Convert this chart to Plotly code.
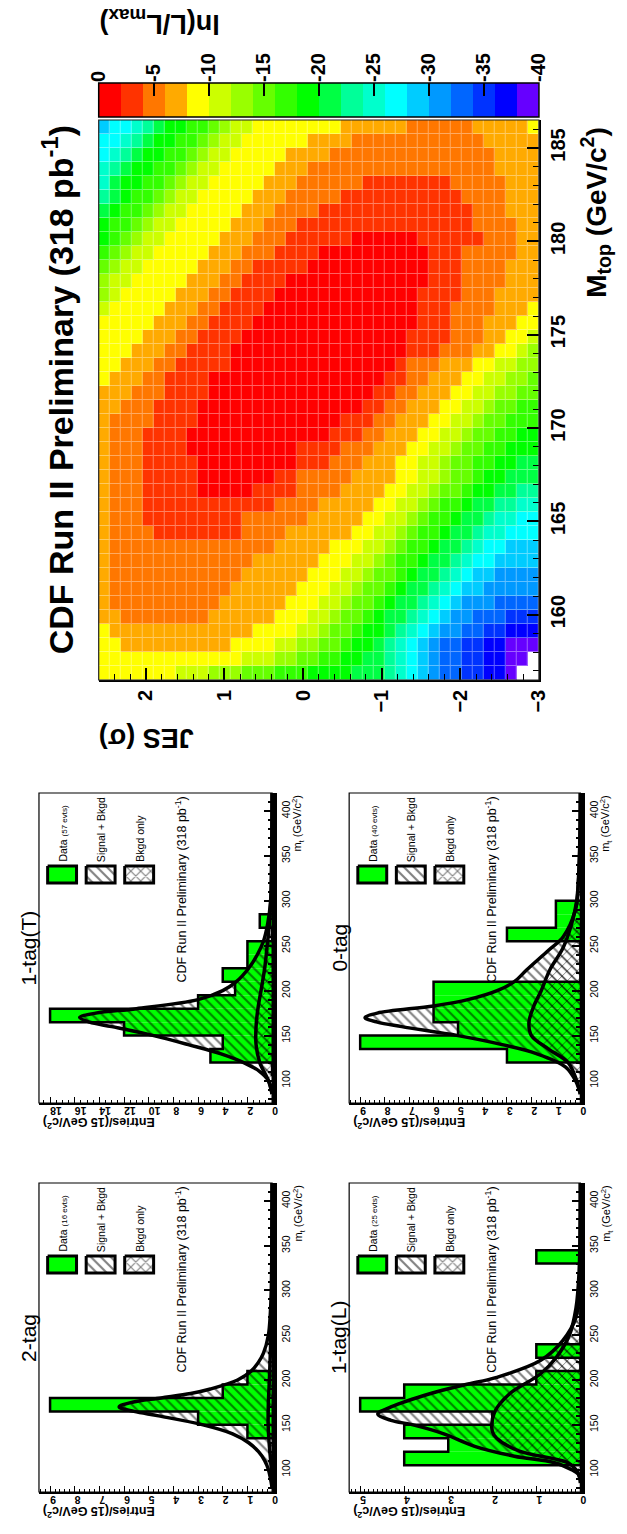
import plotly.graph_objects as go

W, H = 627, 1534
FONT = "Liberation Sans, Arial, sans-serif"


def pxx(x):
    return x / W


def pxy(y):
    return 1 - y / H


# ------------------------------------------------------------------
# 2D likelihood  ln(L/Lmax)  vs  JES (sigma) and M_top
# ------------------------------------------------------------------
JES_RANGE = [2.6, -3.0]          # left -> right as drawn
MTOP_RANGE = [156.5, 186.5]
JES_BIN = 0.14
MTOP_BIN = 0.75
LEVEL_CHARS = "0123456789abcdefghij"   # band k : ln(L/Lmax) in [-2k-2, -2k]
LEVEL_COLORS = ["#ff0000", "#ff3300", "#ff7700", "#ffaa00", "#ffff00",
                "#ccff00", "#99ff00", "#66ff00", "#33ff00", "#00ff00",
                "#00ff44", "#00ff99", "#00ffcc", "#00ffff", "#00ccff",
                "#0099ff", "#0066ff", "#0033ff", "#0000ff", "#6600ff"]
COLORBAR_TICKS = [0, -5, -10, -15, -20, -25, -30, -35, -40]
# rows from M_top = 186.5 (top) downwards, columns from JES = +2.6 (left) to -3.0
LNL_ROWS = [
    "eddcba9988765544444444333333222222333334",
    "ddcba99887655444444333322222222222233333",
    "dcba998876554444433332222222222222223333",
    "cba9988765544444333222222222222222223333",
    "ca99887655444443332222221111111122222333",
    "ba98876554444433322222111111111112222333",
    "a988765544444333222211111111111111222333",
    "9887655444443332221111111111111111222233",
    "9876554444433322211111100000011111122233",
    "8765544444333222111100000000001112222233",
    "7655444443332211111000000000001112222333",
    "6554444433322111100000000000001112222333",
    "6544444333221111000000000000011112223333",
    "5444443332211110000000000000011122223334",
    "4444433322111100000000000000011122233344",
    "4444333221111000000000000000111122233445",
    "4443332211110000000000000000111222334456",
    "4433322111110000000000000001222333445566",
    "4333221111000000000000000011223334455667",
    "3332221111000000000000000112233344556677",
    "3322211110000000000000001122333445567788",
    "3222211110000000000000111223334455677888",
    "3222111100000000000001112233344556778899",
    "3222111100000000001111222333445567788999",
    "32221111100000000011122233344556778899aa",
    "3222111110000000112222233334455677899aaa",
    "322211111000001111222233334455677899aabb",
    "3222111111111111222233333445567889aabbcc",
    "322211111111122222233333445567889aabccdd",
    "32222111111112222333333445567889aabccddd",
    "3222222222222222333334445567889aabcddeee",
    "322222222222223333334445567889aabcddeeee",
    "32222222222223333334445567789aabcdeeffff",
    "3222222222223333334445567789aabcdeefffff",
    "322222222223333334445567789aabcdefffgggg",
    "33222222223333334445567789aabcdeffggghhh",
    "43333333333333444455677899abcdeffgghhiii",
    "4433333333334444556677899abcdefgghhiijjj",
    "444444444444455566778899aabcdefgghhiijj.",
    "44444445556667778889999aaabcdefgghhiij..",
]

# ------------------------------------------------------------------
# m_t distributions (15 GeV bins) : bin low edges and entries
# ------------------------------------------------------------------
T1_BINS = [105, 120, 135, 150, 165, 180, 195, 210, 225, 240, 255, 270]
T1_COUNTS = [0, 5, 4, 12, 18, 6, 3, 4, 2, 2, 0, 1]
T1_SB_M = [85, 100, 110, 120, 130, 140, 150, 160, 165, 170, 175, 180, 190, 200, 210, 225, 240, 255, 275, 300, 350, 420]
T1_SB_V = [0, 0.3, 1.0, 2.3, 4.2, 6.8, 9.6, 13.0, 14.8, 15.6, 14.3, 11.0, 6.0, 4.0, 2.9, 1.9, 1.2, 0.7, 0.35, 0.12, 0.03, 0]
T1_B_M = [85, 100, 120, 140, 160, 180, 200, 225, 250, 275, 300, 350, 420]
T1_B_V = [0, 0.3, 1.0, 1.3, 1.3, 1.15, 0.9, 0.6, 0.4, 0.22, 0.1, 0.03, 0]

T0_BINS = [120, 135, 150, 165, 180, 195, 210, 225, 240, 255, 270, 285]
T0_COUNTS = [3, 9, 5, 6, 6, 6, 0, 0, 0, 3, 1, 1]
T0_SB_M = [85, 100, 115, 130, 140, 150, 160, 165, 170, 175, 183, 190, 200, 210, 223, 245, 260, 290, 320, 360, 420]
T0_SB_V = [0, 0.2, 0.6, 1.8, 3.2, 5.0, 7.3, 8.3, 8.8, 8.3, 6.0, 4.6, 3.4, 2.7, 2.2, 1.3, 0.7, 0.2, 0.08, 0.02, 0]
T0_B_M = [85, 100, 120, 135, 150, 165, 183, 200, 223, 248, 275, 300, 350, 420]
T0_B_V = [0, 0.15, 0.5, 1.3, 2.0, 2.1, 1.9, 1.6, 1.25, 0.7, 0.35, 0.15, 0.04, 0]

T2_BINS = [135, 150, 165, 180, 195]
T2_COUNTS = [1, 3, 9, 2, 1]
T2_SB_M = [80, 100, 110, 120, 130, 140, 150, 160, 165, 170, 175, 180, 185, 190, 200, 210, 220, 230, 250, 275, 300, 350, 420]
T2_SB_V = [0, 0.15, 0.3, 0.55, 0.95, 1.6, 2.8, 4.6, 5.6, 6.2, 5.7, 4.5, 3.3, 2.5, 1.4, 0.85, 0.55, 0.35, 0.15, 0.07, 0.03, 0.01, 0]
T2_B_M = [80, 100, 130, 150, 175, 200, 250, 300, 420]
T2_B_V = [0, 0.03, 0.12, 0.16, 0.15, 0.11, 0.05, 0.02, 0]

TL_BINS = [105, 120, 135, 150, 165, 180, 195, 210, 225, 240, 255, 270, 285, 300, 315, 330]
TL_COUNTS = [4, 3, 4, 2, 5, 4, 1, 0, 1, 0, 0, 0, 0, 0, 0, 1]
TL_SB_M = [85, 95, 100, 108, 115, 126, 140, 150, 155, 162, 170, 185, 195, 203, 222, 244, 270, 300, 420]
TL_SB_V = [0, 0.05, 0.2, 0.6, 1.5, 2.4, 3.1, 3.8, 4.3, 4.6, 4.3, 3.4, 2.6, 1.9, 0.9, 0.4, 0.1, 0.03, 0]
TL_B_M = [90, 100, 108, 121, 135, 143, 164, 185, 207, 225, 250, 280, 320, 420]
TL_B_V = [0, 0.1, 0.3, 1.4, 1.9, 2.0, 1.95, 1.6, 0.9, 0.55, 0.25, 0.1, 0.03, 0]

PANELS = [
    # title, n events, bins, counts, sb_m, sb_v, b_m, b_v, y-max, major dtick, minor dtick, frame px
    ("1-tag(T)", 57, T1_BINS, T1_COUNTS, T1_SB_M, T1_SB_V, T1_B_M, T1_B_V, 18.9, 2, 0.5, (28, 793, 270, 1103)),
    ("0-tag", 40, T0_BINS, T0_COUNTS, T0_SB_M, T0_SB_V, T0_B_M, T0_B_V, 9.45, 1, 0.2, (350, 793, 590, 1103)),
    ("2-tag", 16, T2_BINS, T2_COUNTS, T2_SB_M, T2_SB_V, T2_B_M, T2_B_V, 9.45, 1, 0.2, (28, 1183, 270, 1492)),
    ("1-tag(L)", 25, TL_BINS, TL_COUNTS, TL_SB_M, TL_SB_V, TL_B_M, TL_B_V, 5.25, 1, 0.1, (350, 1183, 590, 1492)),
]
MT_RANGE = [75, 420]
BIN_W = 15

fig = go.Figure()
annotations = []
shapes = []

# ---------------- heatmap ----------------
n_rows = len(LNL_ROWS)
n_cols = len(LNL_ROWS[0])
jes_edges = [JES_RANGE[1] + JES_BIN * i for i in range(n_cols + 1)]
mtop_edges = [MTOP_RANGE[0] + MTOP_BIN * i for i in range(n_rows + 1)]
z = []
for row in reversed(LNL_ROWS):
    zr = []
    for ch in reversed(row[:n_cols]):
        k = LEVEL_CHARS.find(ch)
        zr.append(None if k < 0 else -(2 * k + 1))
    z.append(zr)

cs = []
nlev = len(LEVEL_COLORS)
for k in range(nlev - 1, -1, -1):
    t0 = (nlev - k - 1) / nlev
    t1 = (nlev - k) / nlev
    cs.append([t0, LEVEL_COLORS[k]])
    cs.append([t1, LEVEL_COLORS[k]])

# pale copy underneath so that the 1px cell gaps read as faint light lines
for gap, op in ((0, 0.62), (1, 1.0)):
    fig.add_trace(go.Heatmap(x=jes_edges, y=mtop_edges, z=z, colorscale=cs,
                             zmin=-2 * nlev, zmax=0, showscale=False, xgap=gap, ygap=gap,
                             opacity=op, hoverinfo="skip", xaxis="x", yaxis="y"))

# colour bar drawn as a strip
cb_edges = [-2 * nlev + 2 * i for i in range(nlev + 1)]
cb_z = [[-(2 * k + 1) for k in range(nlev - 1, -1, -1)]]
fig.add_trace(go.Heatmap(x=cb_edges, y=[0, 1], z=cb_z, colorscale=cs, zmin=-2 * nlev, zmax=0,
                         showscale=False, hoverinfo="skip", xaxis="x2", yaxis="y2"))

bold20 = dict(family=FONT, size=20, color="black", weight="bold")
layout_axes = dict(
    xaxis=dict(domain=[pxx(90), pxx(547)], range=JES_RANGE, anchor="y", side="bottom",
               ticks="inside", ticklen=12, tickwidth=1.5, tickcolor="black", dtick=1, tick0=0,
               minor=dict(dtick=0.2, ticks="inside", ticklen=6, tickcolor="black", tickwidth=1),
               tickangle=-90, tickfont=bold20, showline=True, linecolor="black", linewidth=1.5,
               showgrid=False, zeroline=False),
    yaxis=dict(domain=[pxy(680), pxy(120)], range=MTOP_RANGE, anchor="x", side="right",
               ticks="inside", ticklen=12, tickwidth=1.5, tickcolor="black", dtick=5, tick0=160,
               minor=dict(dtick=1, ticks="inside", ticklen=6, tickcolor="black", tickwidth=1),
               tickangle=-90, tickfont=bold20, showline=True, linecolor="black", linewidth=1.5,
               showgrid=False, zeroline=False),
    xaxis2=dict(domain=[pxx(90), pxx(547)], range=[0, -2 * nlev], anchor="y2", side="top",
                ticks="inside", ticklen=13, tickwidth=1.5, tickcolor="black",
                tickvals=COLORBAR_TICKS, ticktext=[str(v) for v in COLORBAR_TICKS],
                tickangle=-90, tickfont=bold20, showline=False, showgrid=False, zeroline=False),
    yaxis2=dict(domain=[pxy(117), pxy(83)], range=[0, 1], anchor="x2", visible=False),
)
shapes.append(dict(type="rect", xref="x domain", yref="y domain", x0=0, x1=1, y0=0, y1=1,
                   line=dict(color="#222", width=1.2)))
shapes.append(dict(type="rect", xref="x2 domain", yref="y2 domain", x0=0, x1=1, y0=0, y1=1,
                   line=dict(color="black", width=1.5)))


def ann(text, x, y, angle, size, bold=False, xanchor="center", yanchor="middle"):
    f = dict(family=FONT, size=size, color="black")
    if bold:
        f["weight"] = "bold"
    return dict(text=text, x=pxx(x), y=pxy(y), xref="paper", yref="paper", showarrow=False,
                textangle=angle, xanchor=xanchor, yanchor=yanchor, font=f)


annotations += [
    ann("CDF Run II Preliminary (318 pb<sup>-1</sup>)", 47, 390, -90, 34, bold=True),
    ann("ln(L/L<sub>max</sub>)", 153, 22, 180, 27, bold=True),
    ann("JES (σ)", 139, 738, 180, 27, bold=True),
    ann("M<sub>top</sub> (GeV/c<sup>2</sup>)", 606, 212, -90, 28, bold=True),
]

# ---------------- histogram panels ----------------
OV = 7  # overlay axis in pixel units for legend swatches
for i, (title, nev, bins, counts, sbm, sbv, bm, bv, ymax, dt, mdt, fr) in enumerate(PANELS):
    n = 3 + i
    xa, ya = f"x{n}", f"y{n}"
    x0, y0, x1, y1 = fr
    small = dict(family=FONT, size=10.5, color="black", weight="bold")
    layout_axes[f"xaxis{n}"] = dict(domain=[pxx(x0), pxx(x1)], range=[ymax, 0], anchor=ya, side="bottom",
                                    ticks="inside", ticklen=6, tickwidth=1, tickcolor="black", dtick=dt, tick0=0,
                                    minor=dict(dtick=mdt, ticks="inside", ticklen=3, tickcolor="black"),
                                    tickangle=180, tickfont=small, showline=True, linecolor="black",
                                    linewidth=2, showgrid=False, zeroline=False)
    layout_axes[f"yaxis{n}"] = dict(domain=[pxy(y1), pxy(y0)], range=MT_RANGE, anchor=xa, side="right",
                                    ticks="inside", ticklen=8, tickwidth=1.5, tickcolor="black", dtick=50, tick0=100,
                                    minor=dict(dtick=10, ticks="inside", ticklen=4, tickcolor="black"),
                                    tickangle=-90, tickfont=dict(family=FONT, size=10.5, color="black"),
                                    showline=True, linecolor="black",
                                    linewidth=5, showgrid=False, zeroline=False)
    shapes.append(dict(type="rect", xref=f"{xa} domain", yref=f"{ya} domain", x0=0, x1=1, y0=0, y1=1,
                       line=dict(color="black", width=1.2)))

    # data histogram
    fig.add_trace(go.Bar(orientation="h", y=bins, x=counts, width=BIN_W, offset=0,
                         marker=dict(color="#00ff00", line=dict(width=0)),
                         xaxis=xa, yaxis=ya, hoverinfo="skip"))
    px_, py_ = [0], [bins[0]]
    for b, c in zip(bins, counts):
        px_ += [c, c]
        py_ += [b, b + BIN_W]
    px_.append(0)
    py_.append(bins[-1] + BIN_W)
    fig.add_trace(go.Scatter(x=px_, y=py_, mode="lines", line=dict(color="black", width=2.5),
                             xaxis=xa, yaxis=ya, hoverinfo="skip"))
    # signal + background
    fig.add_trace(go.Scatter(x=sbv, y=sbm, mode="lines", fill="tozerox", fillcolor="rgba(0,0,0,0)",
                             fillpattern=dict(shape="\\", fgcolor="black", bgcolor="rgba(0,0,0,0)",
                                              size=7, solidity=0.3),
                             line=dict(color="black", width=3.5, shape="spline"),
                             xaxis=xa, yaxis=ya, hoverinfo="skip"))
    # background only
    fig.add_trace(go.Scatter(x=bv, y=bm, mode="lines", fill="tozerox", fillcolor="rgba(0,0,0,0)",
                             fillpattern=dict(shape="x", fgcolor="black", bgcolor="rgba(0,0,0,0)",
                                              size=7, solidity=0.25),
                             line=dict(color="black", width=3.5, shape="spline"),
                             xaxis=xa, yaxis=ya, hoverinfo="skip"))

    # legend swatches
    for j, (fc, pat) in enumerate((("#00ff00", None), ("white", "\\"), ("white", "x"))):
        bx0, bx1 = x0 + 9 + 40 * j, x0 + 39 + 40 * j
        by0, by1 = y0 + 73, y0 + 90
        kw = dict(x=[bx0, bx1, bx1, bx0, bx0], y=[by0, by0, by1, by1, by0], mode="lines", fill="toself",
                  fillcolor=fc, line=dict(color="black", width=3), xaxis=f"x{OV}", yaxis=f"y{OV}",
                  hoverinfo="skip")
        if pat:
            kw["fillpattern"] = dict(shape=pat, fgcolor="black", bgcolor="white", size=7, solidity=0.3)
        fig.add_trace(go.Scatter(**kw))

    leg_txt = [f"Data <span style='font-size:8px'>({nev} evts)</span>", "Signal + Bkgd", "Bkgd only"]
    for j, t in enumerate(leg_txt):
        annotations.append(ann(t, x0 + 24 + 40 * j, y0 + 71, -90, 10.5, yanchor="bottom"))
    annotations.append(ann("CDF Run II Preliminary (318 pb<sup>-1</sup>)", x0 + 147, y0 + 97, -90, 12.5))
    annotations.append(ann(title, x0 - 11, (y0 + y1) / 2, -90, 21))
    annotations.append(ann("m<sub>t</sub> (GeV/c<sup>2</sup>)", x1 + 27, y0, -90, 11, yanchor="top"))
    annotations.append(ann("Entries/(15 GeV/c<sup>2</sup>)", x0 + 2, y1 + 20, 180, 12.5, bold=True,
                           xanchor="left"))

layout_axes[f"xaxis{OV}"] = dict(domain=[0, 1], range=[0, W], anchor=f"y{OV}", visible=False)
layout_axes[f"yaxis{OV}"] = dict(domain=[0, 1], range=[H, 0], anchor=f"x{OV}", visible=False)

fig.update_layout(width=W, height=H, margin=dict(l=0, r=0, t=0, b=0), paper_bgcolor="white",
                  plot_bgcolor="rgba(0,0,0,0)", showlegend=False, barmode="overlay",
                  annotations=annotations, shapes=shapes, font=dict(family=FONT), **layout_axes)
fig.write_html("out.html")
